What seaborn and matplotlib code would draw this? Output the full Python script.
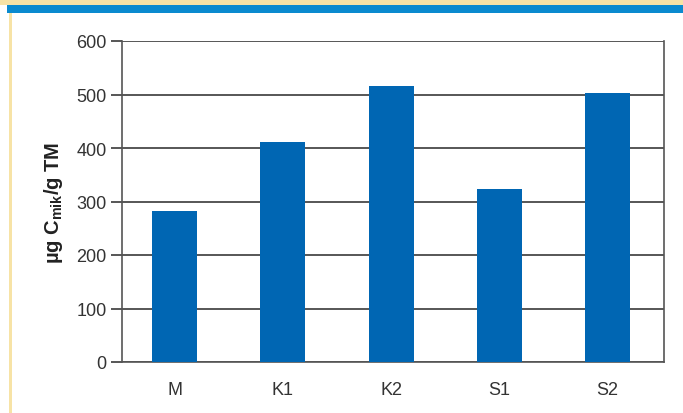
import matplotlib
matplotlib.use("Agg")
import matplotlib.pyplot as plt
import seaborn as sns
import pandas as pd
from matplotlib.patches import Rectangle
from matplotlib import font_manager

categories = ["M", "K1", "K2", "S1", "S2"]
values = [282, 411, 516, 323, 502]
yticks = [0, 100, 200, 300, 400, 500, 600]

sns.set_theme(style="white")
names = {f.name for f in font_manager.fontManager.ttflist}
fam = "Liberation Sans Narrow" if "Liberation Sans Narrow" in names else "Liberation Sans"
plt.rcParams["font.family"] = [fam, "DejaVu Sans"]
plt.rcParams["mathtext.fontset"] = "custom"
plt.rcParams["mathtext.bf"] = "Liberation Sans:bold"
plt.rcParams["mathtext.rm"] = "Liberation Sans"

df = pd.DataFrame({"cat": categories, "val": values})

fig = plt.figure(figsize=(6.83, 4.14), dpi=100)
fig.patch.set_facecolor("white")
# decorative bands
fig.patches.append(Rectangle((0, 1 - 6/414), 1, 6/414, transform=fig.transFigure,
                             facecolor="#F7E3A6", edgecolor="none", zorder=0))
fig.patches.append(Rectangle((7/683, 1 - 14/414), 1, 8/414, transform=fig.transFigure,
                             facecolor="#0A8ACF", edgecolor="none", zorder=0))
fig.patches.append(Rectangle((9/683, 0), 3/683, 1 - 14/414, transform=fig.transFigure,
                             facecolor="#F7E3A6", edgecolor="none", zorder=0))

ax = fig.add_axes([122/683, 1 - 363/414, (664-122)/683, (363-42)/414])
sns.barplot(data=df, x="cat", y="val", color="#0066B3", saturation=1, width=0.415,
            linewidth=0, edgecolor="none", ax=ax, zorder=3)
ax.set_ylim(0, 600)
ax.set_yticks(yticks)
ax.set_xlim(-0.487, 4.522)
ax.grid(axis="y", color="#3a3a3a", linewidth=1.2, zorder=0)
ax.set_axisbelow(True)
for s in ax.spines.values():
    s.set_visible(True)
    s.set_color("#555555")
    s.set_linewidth(1.2)
ax.spines["top"].set_visible(False)
ax.tick_params(axis="y", which="both", left=True, length=8, width=1.2, color="#3a3a3a",
               labelsize=13, labelcolor="#333333", pad=3)
ax.tick_params(axis="x", bottom=False, labelsize=13, labelcolor="#333333", pad=8)
ax.set_xlabel("")
ax.set_ylabel("µg C$_{\\mathbf{mik}}$/g TM", fontsize=14.5, fontweight="bold",
              family="Liberation Sans", color="#222222", labelpad=8)
fig.savefig("out.png", dpi=100, facecolor="white")
